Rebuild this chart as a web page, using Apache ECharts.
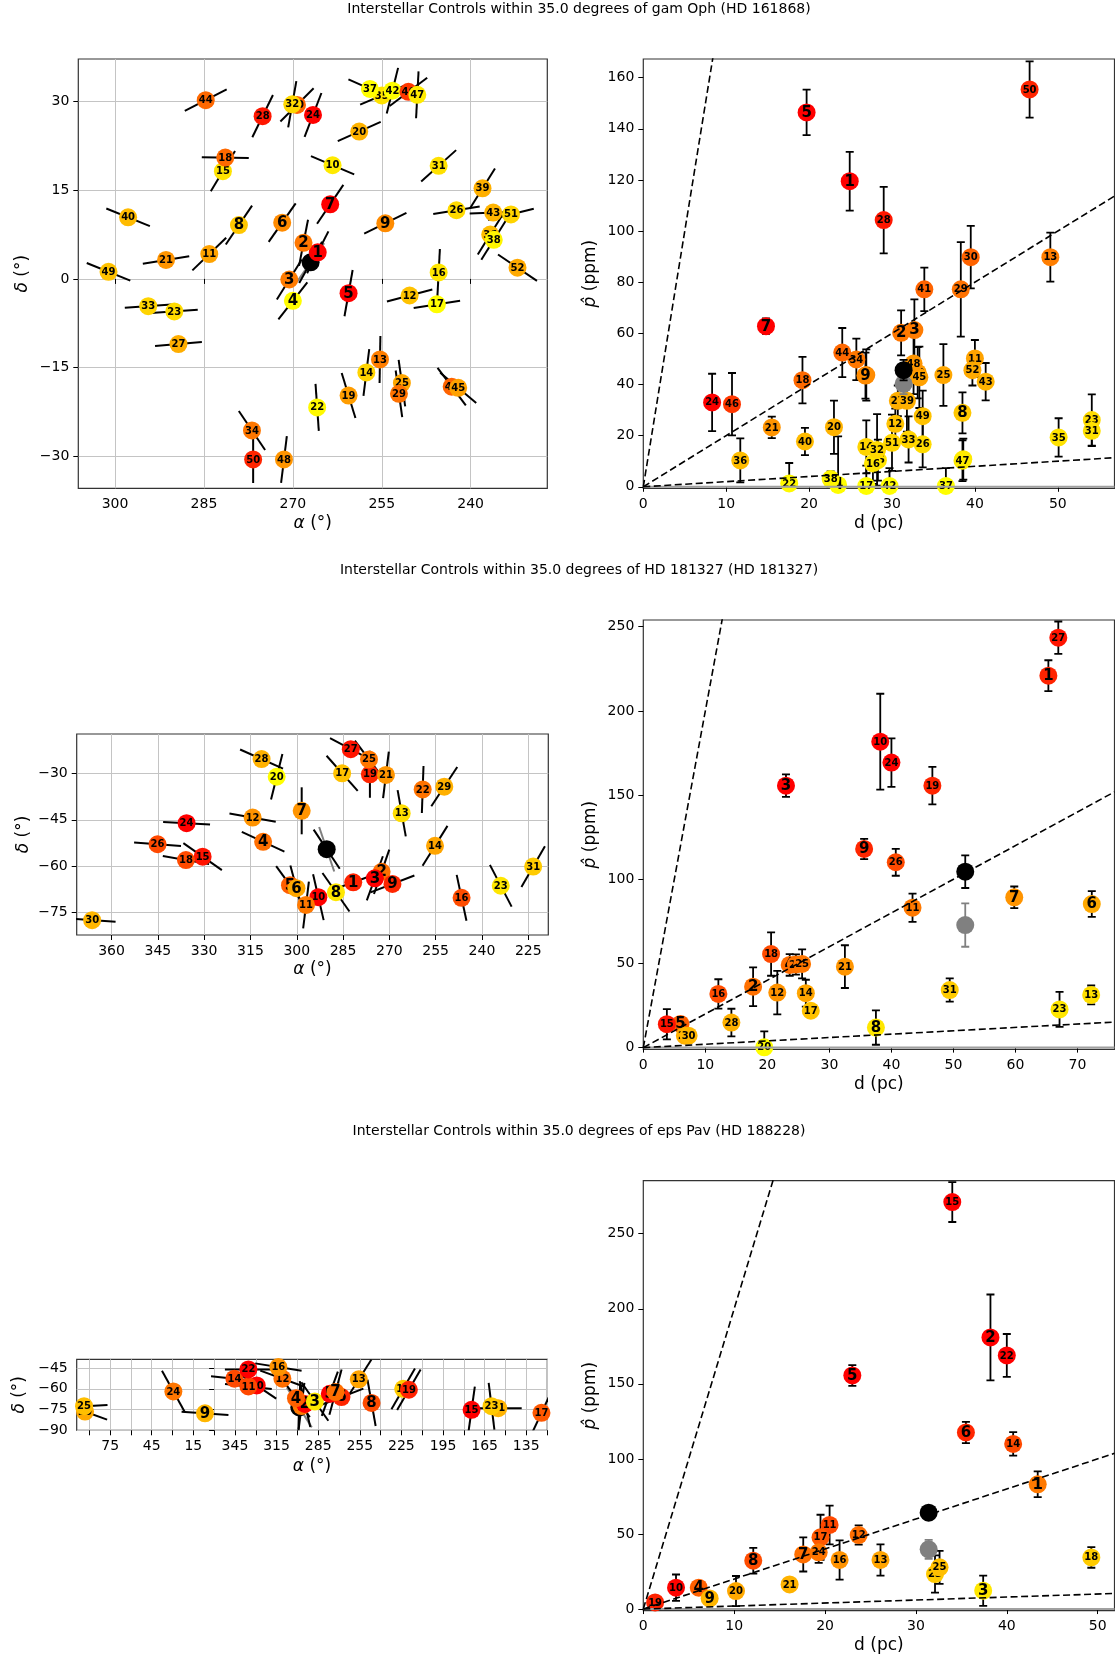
<!DOCTYPE html>
<html>
<head>
<meta charset="utf-8">
<script src="https://cdn.jsdelivr.net/npm/echarts@6/dist/echarts.min.js"></script>
<style>
  html, body { margin: 0; padding: 0; background: #ffffff; }
  #chart { width: 1115px; height: 1662px; }
</style>
</head>
<body>
<div id="chart"></div>
<script>
// ---------------------------------------------------------------------------
// Interstellar control stars around three targets.
// Each array is indexed by control-star number - 1.
// RA / Dec in degrees, PA = polarization position angle (deg, N through E),
// distance in pc, polarization and its 1-sigma error in ppm.
// ---------------------------------------------------------------------------

// gam Oph (HD 161868)
const gamOphRa   = [265.8, 268.2, 270.6, 270.0, 260.6, 271.8, 263.7, 279.1, 254.4, 263.3, 284.1, 250.3, 255.3, 257.6, 281.8, 245.4, 245.7, 281.4, 260.6, 258.8, 291.4, 265.9, 290.0, 266.6, 251.6, 242.4, 289.3, 275.1, 252.1, 269.3, 245.4, 270.1, 294.4, 276.9, 255.0, 236.7, 257.0, 236.1, 238.0, 297.8, 243.2, 253.2, 236.2, 284.7, 242.1, 250.5, 249.0, 271.5, 301.1, 276.7, 233.2, 232.1];
const gamOphDec  = [4.5, 6.1, -0.1, -3.7, -2.4, 9.5, 12.6, 9.1, 9.4, 19.2, 4.2, -2.8, -13.6, -15.8, 18.2, 1.1, -4.3, 20.5, -19.7, 24.9, 3.2, -21.7, -5.5, 27.7, -17.6, 11.6, -11.0, 27.5, -19.4, 29.4, 19.1, 29.5, -4.6, -25.6, 31.0, 7.5, 32.1, 6.6, 15.3, 10.4, -18.2, 31.8, 11.2, 30.2, -18.4, 31.6, 31.1, -30.5, 1.2, -30.5, 10.9, 1.9];
const gamOphPA   = [153, 169, 148, 142, 170, 145, 146, 146, 116, 67, 134, 105, 179, 173, 149, 177, 99, 89, 17, 114, 99, 4, 94, 159, 8, 99, 95, 154, 8, 135, 132, 170, 94, 34, 113, 148, 66, 148, 148, 68, 37, 166, 92, 117, 50, 127, 177, 173, 68, 0, 104, 56];
const gamOphDist = [24.9, 31.1, 32.7, 23.5, 19.7, 26.9, 14.8, 38.5, 26.8, 38.6, 40.0, 30.4, 49.1, 26.9, 28.3, 27.7, 26.9, 19.2, 33.1, 23.0, 15.5, 17.6, 54.1, 8.3, 36.2, 33.7, 30.7, 29.0, 38.3, 39.5, 54.1, 28.2, 32.0, 25.7, 50.1, 11.7, 36.5, 22.6, 31.8, 19.5, 33.9, 29.7, 41.3, 24.0, 33.3, 10.7, 38.5, 32.6, 33.7, 46.6, 30.0, 39.7];
const gamOphPol  = [119.5, 60.2, 61.3, 0.7, 146.4, 43.7, 62.8, 28.9, 43.5, 10.8, 50.2, 24.6, 89.8, 15.6, 10.4, 9.1, 0.3, 41.7, 44.6, 23.3, 23.2, 1.3, 26.1, 33.0, 43.7, 16.6, 33.6, 104.3, 77.2, 89.8, 21.9, 14.4, 18.5, 49.8, 19.3, 10.3, 0.3, 3.0, 33.6, 17.7, 77.2, 0.3, 41.1, 52.5, 42.8, 32.3, 10.2, 48.2, 27.6, 155.4, 17.2, 45.6];
const gamOphErr  = [11.5, 8.8, 12, 19, 8.9, 10.0, 3, 8, 9, 8, 7.2, 6, 9.6, 10.4, 8, 8, 8, 9.1, 10, 10.4, 4.2, 8, 10, 11.2, 12.1, 9, 6, 13.0, 18.5, 12.2, 6, 14, 9, 8.1, 7.5, 8.6, 7, 3, 12, 5.3, 8.5, 7, 7.3, 9.6, 12, 12.2, 8, 12, 10, 11.0, 11, 6];

// HD 181327
const hd181327Ra   = [281.7, 272.5, 274.7, 310.9, 302.2, 300.1, 298.4, 287.3, 269.0, 293.0, 297.0, 314.3, 266.0, 255.2, 330.5, 246.6, 285.3, 335.9, 276.3, 306.5, 271.1, 259.2, 233.9, 335.7, 276.6, 345.1, 282.5, 311.4, 252.2, 6.3, 223.4];
const hd181327Dec  = [-65.2, -61.8, -63.9, -52.1, -66.1, -67.1, -42.1, -68.4, -65.7, -70.0, -72.5, -44.3, -42.9, -53.4, -56.9, -70.2, -30.0, -58.0, -30.3, -31.1, -30.5, -35.2, -66.3, -46.1, -25.5, -52.9, -22.2, -25.4, -34.3, -77.4, -60.1];
const hd181327PA   = [110, 161, 160, 65, 36, 15, 0, 35, 111, 13, 173, 80, 10, 148, 55, 12, 41.5, 80, 0, 166, 173, 178, 27.5, 87, 37, 86, 62, 66, 146.5, 86, 150];
const hd181327Dist = [65.3, 17.7, 23.0, 23.6, 6.0, 72.3, 59.8, 37.5, 35.6, 38.2, 43.4, 21.6, 72.2, 26.2, 3.8, 12.1, 27.0, 20.6, 46.6, 19.5, 32.5, 24.6, 67.1, 40.0, 25.6, 40.7, 66.9, 14.2, 6.7, 7.3, 49.4];
const hd181327Pol  = [220.9, 36.2, 155.6, 49.1, 14.1, 85.3, 89.3, 11.9, 118.0, 181.7, 83.1, 32.7, 31.3, 32.3, 13.9, 31.9, 21.9, 55.6, 155.6, 0.2, 48.1, 49.4, 22.7, 169.3, 49.7, 110.1, 243.5, 14.9, 7.1, 7.1, 34.2];
const hd181327Err  = [9.2, 11.5, 6.7, 6.4, 4, 7.7, 6.4, 10.2, 6, 28.5, 8.4, 12.9, 5.6, 8, 9, 8.7, 3, 12.9, 11.1, 9.5, 12.7, 6, 10.4, 14.4, 8.6, 8, 9.6, 8.2, 4, 4, 6.9];

// eps Pav (HD 188228)
const epsPavRa   = [297.0, 294.5, 287.4, 301.0, 276.6, 268.2, 272.5, 246.5, 6.6, 329.3, 335.3, 310.8, 255.7, 345.4, 174.4, 313.7, 124.0, 223.7, 219.6, 93.1, 155.2, 335.3, 160.0, 29.4, 93.8];
const epsPavDec  = [-72.5, -71.0, -69.2, -66.8, -63.6, -66.0, -62.4, -70.2, -77.7, -57.6, -58.3, -52.7, -53.2, -52.7, -75.2, -44.3, -77.4, -60.0, -60.7, -76.5, -74.0, -46.0, -72.6, -61.9, -72.6];
const epsPavPA   = [173, 13, 35, 36, 160, 111, 165, 10, 86, 56, 84, 70, 147.5, 84, 172, 81, 155, 150, 150, 70, 90, 90, 7, 29, 93];
const epsPavDist = [43.4, 38.2, 37.4, 6.1, 23.0, 35.5, 17.6, 12.1, 7.3, 3.6, 20.5, 23.7, 26.1, 40.7, 34.0, 21.6, 19.5, 49.3, 1.3, 10.2, 16.1, 40.0, 32.1, 19.3, 32.6];
const epsPavPol  = [83.1, 180.9, 12.2, 14.2, 155.6, 117.6, 36.4, 32.2, 7.1, 14.2, 56.0, 49.3, 32.7, 110.0, 271.1, 32.7, 47.8, 34.4, 4.4, 12.0, 16.4, 168.9, 23.3, 37.8, 27.8];
const epsPavErr  = [8.6, 28.6, 10.1, 3, 6.9, 7.1, 11.4, 8.6, 3, 8.8, 12.9, 6.4, 10.4, 7.8, 13.3, 13.1, 15, 6.9, 3, 10, 3, 14.3, 12.4, 7, 11];

// Targets: sky position, vector angles (black / grey), distance and polarization
const targetTitles   = ['gam Oph (HD 161868)', 'HD 181327 (HD 181327)', 'eps Pav (HD 188228)'];
const targetRa       = [267.0, 290.3, 298.6];
const targetDec      = [2.8, -54.5, -73.5];
const targetPA       = [151, 33.7, 178];
const targetPAGrey   = [145, 18.7, 32];
const targetDist     = [31.4, 51.9, 31.4];
const targetPol      = [45.6, 104.5, 64.2];
const targetPolErr   = [4, 9.7, 4];
const targetPolGrey  = [40.2, 72.8, 39.8];
const targetErrGrey  = [4, 12.9, 6.3];

// Reference lines p = k d (ppm / pc)
const referenceSlopes = [0.2, 2, 20];

// Tick values
const gamOphRaTicks    = [240, 255, 270, 285, 300];
const gamOphDecTicks   = [-30, -15, 0, 15, 30];
const gamOphDTicks     = [0, 10, 20, 30, 40, 50];
const gamOphPTicks     = [0, 20, 40, 60, 80, 100, 120, 140, 160];
const hd181327RaTicks  = [225, 240, 255, 270, 285, 300, 315, 330, 345, 360];
const hd181327DecTicks = [-75, -60, -45, -30];
const hd181327DTicks   = [0, 10, 20, 30, 40, 50, 60, 70];
const hd181327PTicks   = [0, 50, 100, 150, 200, 250];
const epsPavRaTicks    = [-240, -225, -210, -195, -180, -165, -150, -135, -120, -105, -90, -75, -60, -45, -30, -15, 0, 15, 30, 45, 60, 75, 90];
const epsPavRaLabels   = [-225, -195, -165, -135, -105, -75, -45, -15, 15, 45, 75];
const epsPavDecTicks   = [-90, -75, -60, -45];
const epsPavDTicks     = [0, 10, 20, 30, 40, 50];
const epsPavPTicks     = [0, 50, 100, 150, 200, 250];

// ---------------------------------------------------------------------------
const FONT = 'DejaVu Sans';
const VECTOR_HALF = 23.5;     // half length of a polarization vector, px
const MARK_R = 9;             // marker radius, px

const panels = [
  { ra: gamOphRa, dec: gamOphDec, pa: gamOphPA, dist: gamOphDist, pol: gamOphPol, err: gamOphErr,
    raRange: [227.07, 306.2], decRange: [-35.37, 37.15], dRange: [0, 56.84], pRange: [-0.6, 167.3],
    raTicks: gamOphRaTicks, raLabels: gamOphRaTicks, decTicks: gamOphDecTicks, dTicks: gamOphDTicks, pTicks: gamOphPTicks,
    mapGrid: { left: 78.3, top: 59, width: 469, height: 429.3 },
    polGrid: { left: 643.3, top: 59, width: 471.2, height: 429.3 },
    titleY: 9, mapNameGapX: 27, mapNameGapY: 47, polNameGapX: 27 },
  { ra: hd181327Ra, dec: hd181327Dec, pa: hd181327PA, dist: hd181327Dist, pol: hd181327Pol, err: hd181327Err,
    raRange: [218.5, 371.3], decRange: [-82.2, -17.3], dRange: [0, 75.96], pRange: [-1.0, 254.0],
    raTicks: hd181327RaTicks, raLabels: hd181327RaTicks, decTicks: hd181327DecTicks, dTicks: hd181327DTicks, pTicks: hd181327PTicks,
    mapGrid: { left: 76.7, top: 734, width: 471.6, height: 201 },
    polGrid: { left: 643.3, top: 620, width: 471.2, height: 429.3 },
    titleY: 570, mapNameGapX: 26.5, mapNameGapY: 45, polNameGapX: 27 },
  { ra: epsPavRa, dec: epsPavDec, pa: epsPavPA, dist: epsPavDist, pol: epsPavPol, err: epsPavErr,
    raRange: [-240.2, 99.1], decRange: [-90, -38.7], dRange: [0, 51.85], pRange: [-1.1, 285.3],
    raTicks: epsPavRaTicks, raLabels: epsPavRaLabels, decTicks: epsPavDecTicks, dTicks: epsPavDTicks, pTicks: epsPavPTicks,
    mapGrid: { left: 76.7, top: 1359.3, width: 470.6, height: 71 },
    polGrid: { left: 643.3, top: 1180.7, width: 471.2, height: 430 },
    titleY: 1131, mapNameGapX: 28, mapNameGapY: 49, polNameGapX: 26 }
];

// put RA on the continuous span used by a panel's axis
function unwrapRa(a, lo) {
  while (a < lo) a += 360;
  while (a >= lo + 360) a -= 360;
  return a;
}
function raText(v) {
  let a = v;
  while (a < 0) a += 360;
  while (a > 360) a -= 360;
  return String(Math.round(a));
}
function numText(v) {
  return (v < 0 ? '\u2212' : '') + String(Math.abs(v));
}

const tickFont = { fontFamily: FONT, fontSize: 14, color: '#000' };
const nameFont = {
  fontFamily: FONT, fontSize: 17, color: '#000',
  rich: { i: { fontFamily: FONT, fontSize: 17, fontStyle: 'italic', color: '#000' } }
};

function makeAxis(gridIndex, range, ticks, labels, formatter, opts) {
  return Object.assign({
    type: 'value', gridIndex, min: range[0], max: range[1],
    axisLine: { show: false },
    axisTick: { show: true, inside: false, length: 5, customValues: ticks, lineStyle: { color: '#000', width: 1 } },
    axisLabel: Object.assign({ show: true, margin: 9, customValues: labels, formatter }, tickFont),
    splitLine: { show: false },
    nameLocation: 'middle',
    nameTextStyle: nameFont
  }, opts);
}

function vectorSeries(gi, data, color) {
  return {
    type: 'custom', xAxisIndex: gi, yAxisIndex: gi, clip: true, silent: true, data,
    renderItem: (params, api) => {
      const c = api.coord([api.value(0), api.value(1)]);
      const a = api.value(2) * Math.PI / 180;
      const dx = -Math.sin(a) * VECTOR_HALF, dy = -Math.cos(a) * VECTOR_HALF;
      return { type: 'line',
        shape: { x1: c[0] - dx, y1: c[1] - dy, x2: c[0] + dx, y2: c[1] + dy },
        style: { stroke: color, lineWidth: 2 } };
    }
  };
}

function markerSeries(gi, data, fixedColor) {
  return {
    type: 'custom', xAxisIndex: gi, yAxisIndex: gi, silent: true, data,
    renderItem: (params, api) => {
      const c = api.coord([api.value(0), api.value(1)]);
      const id = api.value(3);
      const fill = fixedColor || api.visual('color');
      const kids = [{ type: 'circle', shape: { cx: c[0], cy: c[1], r: MARK_R }, style: { fill } }];
      if (id > 0) {
        kids.push({ type: 'text', style: {
          text: String(id), x: c[0], y: c[1] + 0.5, align: 'center', verticalAlign: 'middle',
          fontFamily: FONT, fontWeight: 'bold', fontSize: id < 10 ? 15 : 10, fill: '#000' } });
      }
      return { type: 'group', children: kids };
    }
  };
}

function errorSeries(gi, data, color) {
  return {
    type: 'custom', xAxisIndex: gi, yAxisIndex: gi, clip: true, silent: true, data,
    renderItem: (params, api) => {
      const x = api.value(0), y = api.value(1), e = api.value(2);
      const t = api.coord([x, y + e]), b = api.coord([x, y - e]);
      const st = { stroke: color, lineWidth: 1.8 };
      return { type: 'group', children: [
        { type: 'line', shape: { x1: t[0], y1: t[1], x2: b[0], y2: b[1] }, style: st },
        { type: 'line', shape: { x1: t[0] - 4, y1: t[1], x2: t[0] + 4, y2: t[1] }, style: st },
        { type: 'line', shape: { x1: b[0] - 4, y1: b[1], x2: b[0] + 4, y2: b[1] }, style: st }
      ] };
    }
  };
}

const grids = [], xAxes = [], yAxes = [], series = [], graphics = [];
const colouredSeries = [];

panels.forEach((P, k) => {
  const gm = 2 * k, gp = 2 * k + 1;
  const gridStyle = { show: true, borderColor: '#333', borderWidth: 1.2, backgroundColor: 'transparent',
                      containLabel: false, outerBoundsMode: 'none' };
  grids.push(Object.assign({}, gridStyle, P.mapGrid));
  grids.push(Object.assign({}, gridStyle, P.polGrid));

  // sky map axes
  xAxes.push(makeAxis(gm, P.raRange, P.raTicks, P.raLabels, raText, {
    inverse: true, name: '{i|α} (°)', nameGap: P.mapNameGapX,
    splitLine: { show: true, lineStyle: { color: '#c4c4c4', width: 1 } } }));
  yAxes.push(makeAxis(gm, P.decRange, P.decTicks, P.decTicks, numText, {
    name: '{i|δ} (°)', nameGap: P.mapNameGapY,
    splitLine: { show: true, lineStyle: { color: '#c4c4c4', width: 1 } } }));
  // polarization vs distance axes
  xAxes.push(makeAxis(gp, P.dRange, P.dTicks, P.dTicks, numText, { name: 'd (pc)', nameGap: P.polNameGapX }));
  yAxes.push(makeAxis(gp, P.pRange, P.pTicks, P.pTicks, numText, { name: '{i|p\u0302} (ppm)', nameGap: 44 }));

  const n = P.ra.length;
  const skyVec = [], skyMark = [], errs = [], polMark = [];
  for (let i = 0; i < n; i++) {
    const a = unwrapRa(P.ra[i], P.raRange[0]);
    const ratio = P.pol[i] / P.dist[i];
    skyVec.push([a, P.dec[i], P.pa[i]]);
    skyMark.push([a, P.dec[i], ratio, i + 1]);
    errs.push([P.dist[i], P.pol[i], P.err[i]]);
    polMark.push([P.dist[i], P.pol[i], ratio, i + 1]);
  }
  const ta = unwrapRa(targetRa[k], P.raRange[0]);

  // --- sky map
  series.push(vectorSeries(gm, [[ta, targetDec[k], targetPAGrey[k]]], '#808080'));
  series.push(vectorSeries(gm, [[ta, targetDec[k], targetPA[k]]], '#000000'));
  series.push(vectorSeries(gm, skyVec, '#000000'));
  series.push(markerSeries(gm, [[ta, targetDec[k], 0, 0]], '#000000'));
  colouredSeries.push(series.length);
  series.push(markerSeries(gm, skyMark, null));

  // --- polarization vs distance
  series.push({
    type: 'line', xAxisIndex: gp, yAxisIndex: gp, silent: true, symbol: 'none',
    data: [[P.dRange[0], 0], [P.dRange[1], 0]],
    lineStyle: { color: '#a0a0a0', width: 2, type: 'solid' }
  });
  referenceSlopes.forEach(s => {
    series.push({
      type: 'line', xAxisIndex: gp, yAxisIndex: gp, silent: true, symbol: 'none', clip: true,
      data: [[0, 0], [P.dRange[1], s * P.dRange[1]]],
      lineStyle: { color: '#000', width: 1.6, type: [7, 3.5] }
    });
  });
  series.push(errorSeries(gp, errs, '#000000'));
  colouredSeries.push(series.length);
  series.push(markerSeries(gp, polMark, null));
  series.push(errorSeries(gp, [[targetDist[k], targetPolGrey[k], targetErrGrey[k]]], '#808080'));
  series.push(markerSeries(gp, [[targetDist[k], targetPolGrey[k], 0, 0]], '#808080'));
  series.push(errorSeries(gp, [[targetDist[k], targetPol[k], targetPolErr[k]]], '#000000'));
  series.push(markerSeries(gp, [[targetDist[k], targetPol[k], 0, 0]], '#000000'));

  graphics.push({
    type: 'text', x: 579, y: P.titleY, silent: true,
    style: { text: 'Interstellar Controls within 35.0 degrees of ' + targetTitles[k],
             fontFamily: FONT, fontSize: 14, fill: '#000', align: 'center', verticalAlign: 'middle' }
  });
});

const chart = echarts.init(document.getElementById('chart'), null, { renderer: 'canvas' });
chart.setOption({
  backgroundColor: '#ffffff',
  animation: false,
  grid: grids,
  xAxis: xAxes,
  yAxis: yAxes,
  visualMap: {
    type: 'continuous', show: false, dimension: 2, min: 0, max: 4,
    seriesIndex: colouredSeries,
    inRange: { color: ['#ffff00', '#ffb400', '#ff7300', '#ff3800', '#ff0000'] }
  },
  graphic: graphics,
  series: series
});
</script>
</body>
</html>
